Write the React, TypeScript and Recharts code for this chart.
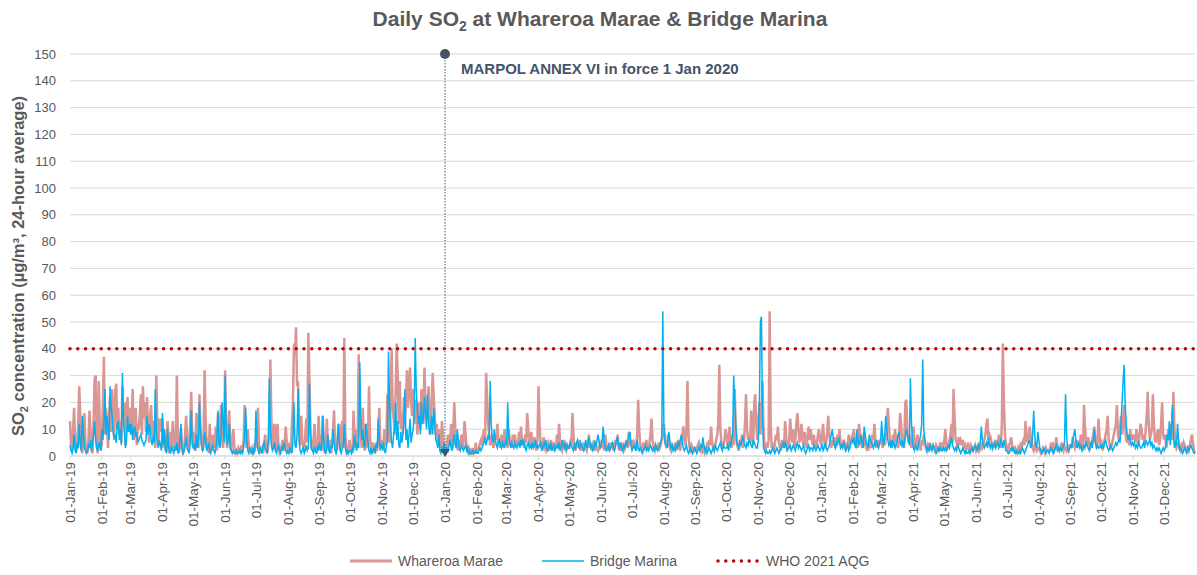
import React from 'react';
import { LineChart, Line, XAxis, YAxis, CartesianGrid, ReferenceLine, ReferenceDot } from 'recharts';

const monthNames = ['Jan', 'Feb', 'Mar', 'Apr', 'May', 'Jun', 'Jul', 'Aug', 'Sep', 'Oct', 'Nov', 'Dec'];
const yearLabels = ['19', '20', '21'];
const yTicks = [0, 10, 20, 30, 40, 50, 60, 70, 80, 90, 100, 110, 120, 130, 140, 150];
const whoLimit = 40;
const marpolDay = 365;

// Whareroa Marae daily SO2, one array per month
const whareroa2019 = [
  [13,4,2,10,18,6,2,3,12,26,15,3,1,8,16,5,2,1,6,17,9,2,1,14,29,30,4,1,28,12,2],
  [5,20,37,8,18,12,3,15,22,9,25,14,6,24,27,10,18,8,13,5,26,12,20,4,15,22,9,18],
  [11,14,25,6,13,18,4,12,10,16,23,8,26,14,20,9,22,11,5,15,19,8,13,6,3,30,12,4,14,9,13],
  [14,3,8,2,6,13,2,1,9,4,13,5,2,7,30,6,1,4,10,3,1,2,8,15,6,2,5,12,24,7],
  [4,9,2,16,8,3,23,10,5,2,6,32,14,3,7,1,12,4,2,8,3,6,11,2,16,5,8,19,6,3,9],
  [32,8,3,11,17,4,2,6,10,3,1,2,1,3,2,1,4,2,6,19,8,3,10,4,1,2,3,1,2,5],
  [3,7,18,4,1,2,3,1,5,8,2,1,4,9,36,14,3,6,12,2,8,12,3,1,2,4,6,2,3,11,5],
  [2,5,3,1,12,20,42,38,48,26,28,10,4,15,6,3,2,8,14,5,46,30,10,3,2,6,12,4,1,3,15],
  [3,8,2,15,5,1,3,14,4,2,6,1,3,10,17,4,2,3,9,12,2,5,13,3,44,8,2,1,3,6],
  [2,4,1,17,6,3,10,5,38,14,8,3,18,6,2,12,4,3,26,8,2,1,5,3,1,4,2,6,18,5,3],
  [6,2,10,4,8,23,12,5,18,40,20,14,8,25,42,30,12,28,10,16,8,22,14,20,32,18,26,33,20,15],
  [25,12,18,21,8,14,20,10,25,16,12,33,20,14,18,26,12,8,20,31,22,15,8,12,5,10,6,3,13,8,2],
];
const whareroa2020 = [
  [3,2,5,8,4,6,12,3,8,20,10,5,3,2,6,4,8,3,5,13,8,4,2,3,1,2,1,3,1,2,5],
  [1,2,3,5,6,4,8,10,5,31,22,12,8,4,6,8,3,5,8,6,12,4,6,3,8,5,3,10,6],
  [5,3,10,6,4,3,8,5,8,3,6,4,9,5,11,4,6,3,8,5,16,10,6,4,9,5,3,7,4,2,6],
  [26,12,5,3,4,7,3,2,4,5,3,2,6,3,4,2,5,3,8,4,12,5,3,2,4,6,3,2,4,3],
  [3,5,4,16,8,3,2,5,4,3,6,2,3,4,2,5,3,2,4,8,3,5,2,3,6,2,4,3,2,3,5],
  [4,3,6,2,8,4,3,2,5,3,4,5,2,3,6,4,8,3,2,5,3,4,2,3,5,6,3,9,4,5],
  [6,3,5,4,2,8,21,10,4,3,2,5,3,4,6,3,2,5,8,14,6,3,2,4,3,2,5,3,4,6,10],
  [12,6,4,3,8,5,3,2,4,3,2,5,3,4,6,3,2,5,8,11,6,4,10,28,8,3,2,4,3,2,3],
  [3,2,4,5,3,2,4,2,3,1,2,4,3,6,4,11,5,3,2,4,6,8,12,34,10,5,3,4,6,10],
  [8,4,6,11,5,3,8,4,25,10,5,3,2,6,4,8,3,5,12,23,10,6,8,5,17,8,4,20,23,12,6],
  [12,20,8,15,28,10,4,2,5,3,6,54,12,3,5,2,4,8,6,11,5,3,2,6,4,3,13,8,2,3],
  [6,14,8,5,10,3,6,12,16,10,5,8,12,6,4,9,5,3,8,11,6,10,6,4,8,5,3,5,8,10,6],
];
const whareroa2021 = [
  [4,8,12,6,3,5,9,15,8,5,3,6,4,7,3,5,8,6,10,5,4,3,6,5,2,5,4,8,3,6,7],
  [8,10,5,4,6,3,12,8,5,3,6,9,4,3,5,2,6,4,3,8,6,12,5,3,6,4,5,6],
  [5,3,8,4,6,10,18,12,6,4,3,8,5,10,6,4,3,8,16,12,5,8,3,20,21,10,5,8,6,3,5],
  [11,5,3,6,8,3,5,2,6,4,8,5,3,2,4,3,5,2,3,4,3,2,4,3,2,3,5,2,4,3],
  [6,10,4,3,4,6,8,12,5,25,14,6,5,3,7,4,6,5,6,3,4,2,3,5,3,2,4,3,2,3,4],
  [2,3,4,2,3,5,3,4,6,8,12,14,6,8,7,5,3,4,5,3,6,4,8,5,3,12,42,20,8,5],
  [3,2,4,5,7,4,3,2,3,2,1,3,2,4,3,5,6,4,13,8,5,6,11,8,5,3,2,4,3,2,3],
  [3,2,1,2,3,2,1,3,2,2,2,3,5,3,4,2,3,7,4,3,2,3,5,3,2,4,3,2,3,2,4],
  [4,3,7,4,3,5,6,3,4,5,8,3,2,19,10,5,4,7,5,3,4,6,8,11,6,4,3,14,8,4],
  [5,3,4,6,8,10,15,6,4,3,4,6,8,10,12,19,8,6,10,15,8,12,19,10,6,5,8,4,10,6,8],
  [6,8,5,10,6,4,8,12,10,6,8,5,10,15,24,12,6,8,10,23,12,6,5,8,10,4,6,12,20,8],
  [6,8,3,5,10,8,6,12,6,24,10,5,3,4,5,3,2,4,3,5,4,3,2,3,2,4,6,8,5,2,1],
];

// Bridge Marina daily SO2, one array per month
const bridge2019 = [
  [4,2,1,3,8,2,1,5,3,12,4,2,15,9,3,2,1,2,4,3,6,2,5,8,13,6,3,2,5,4,2],
  [10,6,12,25,8,15,10,6,26,18,15,9,7,8,5,12,13,6,10,4,31,14,8,3,6,15,9,12],
  [8,12,6,10,11,7,9,5,6,7,8,6,5,4,5,6,15,8,12,10,6,4,8,5,25,10,5,3,6,4,2],
  [16,4,10,2,1,10,3,2,1,4,2,1,3,2,5,1,2,6,12,3,1,2,4,7,3,2,1,5,17,4],
  [3,4,2,8,3,6,20,10,4,2,3,9,6,2,3,5,2,1,3,4,2,1,3,6,17,4,3,8,20,12,5],
  [30,10,4,6,12,3,2,1,2,1,1,2,1,1,2,1,2,1,3,8,18,6,2,1,3,2,1,3,1,2],
  [17,6,2,1,3,2,1,4,5,3,2,1,6,29,10,4,2,3,5,2,1,3,4,2,1,3,2,5,4,2,1],
  [2,1,3,2,1,6,20,4,3,8,25,6,2,1,2,3,1,2,4,2,3,27,8,3,2,1,3,2,1,4,2],
  [5,2,3,15,6,2,1,3,8,2,1,4,3,10,5,2,1,3,12,6,2,1,3,4,12,3,1,2,1,2],
  [2,1,3,2,8,4,2,5,3,35,15,6,10,4,3,12,8,5,2,1,3,1,2,3,1,5,3,14,6,2,4],
  [3,5,2,1,4,6,39,20,12,5,3,8,10,20,6,13,4,3,9,5,8,12,25,6,10,3,8,14,5,8],
  [10,15,44,25,18,12,15,8,20,12,14,22,16,10,23,12,8,10,15,8,18,12,6,5,3,8,2,1,3,2,5],
];
const bridge2020 = [
  [2,1,3,2,4,6,3,2,5,8,4,3,10,6,3,2,4,3,2,3,4,2,3,1,2,1,1,2,1,1,2],
  [1,1,2,3,2,3,4,5,7,4,6,8,6,28,12,6,5,10,6,4,3,5,6,4,3,5,4,3,6],
  [4,20,8,5,3,5,4,3,5,4,3,4,5,3,6,4,6,5,3,2,4,5,3,4,3,5,3,4,6,3,4],
  [3,4,5,3,2,5,4,6,3,2,4,3,5,2,3,4,2,3,4,3,5,2,3,6,4,3,5,2,4,3],
  [3,5,4,3,2,4,3,5,6,4,3,5,4,3,2,4,6,3,4,7,5,3,4,2,3,5,4,6,8,5,3],
  [4,6,11,5,3,2,3,4,2,3,4,5,3,2,4,6,7,4,3,5,3,2,4,3,5,4,6,8,9,4],
  [2,3,4,3,2,6,3,2,3,2,1,2,3,4,2,3,2,3,4,3,2,3,2,4,3,2,3,4,5,7,54],
  [12,5,4,3,6,9,5,3,4,2,3,2,4,3,5,4,6,8,5,3,2,3,4,2,1,2,3,2,1,2,3],
  [2,1,2,3,2,4,3,7,4,2,3,1,2,3,2,1,2,3,2,4,3,2,3,4,5,3,2,4,3,3],
  [3,4,2,5,4,6,8,30,20,12,5,4,3,5,4,6,7,5,4,3,5,4,6,5,4,3,6,5,4,3,3],
  [6,20,50,52,15,3,2,1,2,1,1,2,1,2,3,2,1,2,3,2,1,2,3,4,5,3,5,4,2,3],
  [3,4,2,3,4,3,2,4,5,3,4,3,2,3,4,2,1,2,3,4,2,3,3,2,4,3,2,3,4,3,2],
];
const bridge2021 = [
  [3,4,2,3,5,3,2,3,4,6,8,10,6,4,3,5,4,7,5,3,4,3,5,4,2,3,4,2,3,5,6],
  [5,7,4,3,10,6,4,6,8,5,3,11,8,5,4,3,8,6,5,4,3,5,4,6,4,3,5,6],
  [13,6,4,8,15,10,6,4,5,3,6,4,5,3,4,6,8,9,5,4,6,3,5,7,10,8,6,4,29,13,5],
  [3,2,4,3,2,5,6,8,12,36,10,6,4,2,3,2,4,3,2,4,3,2,1,2,3,2,3,2,2,3],
  [2,3,2,3,4,3,5,7,4,3,2,3,2,4,3,2,1,2,3,2,1,2,1,1,2,1,2,3,2,3,4],
  [3,2,4,3,5,11,6,4,3,4,5,3,7,4,3,5,3,4,5,3,4,5,3,4,6,5,3,6,4,2],
  [2,1,1,2,3,2,3,2,1,2,1,1,2,1,2,3,2,1,2,3,4,5,6,3,4,8,17,8,4,3,9],
  [6,3,2,1,2,3,2,1,2,2,1,2,3,2,1,2,3,4,2,3,2,3,2,3,4,5,23,8,3,2,3],
  [4,3,6,8,10,6,3,4,5,3,4,2,3,4,3,5,4,3,2,4,5,3,6,10,5,3,4,3,3,4],
  [3,4,3,5,6,4,3,2,3,4,3,2,3,4,5,4,5,6,5,12,20,28,34,20,12,8,6,8,6,4,5],
  [4,5,3,4,3,5,4,3,3,4,5,3,6,5,4,5,6,4,5,3,4,3,2,3,2,3,2,1,2,3],
  [2,3,5,8,6,13,4,10,19,8,3,5,4,12,6,2,3,2,1,2,3,2,1,3,2,3,4,3,2,1,1],
];

const wMonths = [...whareroa2019, ...whareroa2020, ...whareroa2021];
const bMonths = [...bridge2019, ...bridge2020, ...bridge2021];

const data: { d: number; w: number; b: number }[] = [];
const monthStarts: number[] = [];
const monthLabelByDay: Record<number, string> = {};
let dayCounter = 0;
wMonths.forEach((m, i) => {
  monthStarts.push(dayCounter);
  monthLabelByDay[dayCounter] = `01-${monthNames[i % 12]}-${yearLabels[Math.floor(i / 12)]}`;
  m.forEach((v, j) => {
    data.push({ d: dayCounter, w: v, b: bMonths[i][j] });
    dayCounter++;
  });
});
const lastDay = dayCounter - 1;

const FONT = '"Liberation Sans", Arial, sans-serif';
const GRAY = '#595959';
const PINK = '#d99694';
const BLUE = '#00b0f0';
const RED = '#c00000';
const NAVY = '#44546a';

const XTick = (props: any) => {
  const { x, y, payload } = props;
  return (
    <text
      x={x}
      y={y}
      transform={`rotate(-90, ${x}, ${y})`}
      textAnchor="end"
      dy="0.35em"
      fontSize={13.5}
      fill={GRAY}
      fontFamily={FONT}
    >
      {monthLabelByDay[payload.value] ?? ''}
    </text>
  );
};

const TopDot = (props: any) => {
  const { cx, cy } = props;
  return (
    <g>
      <circle cx={cx} cy={cy} r={5} fill={NAVY} />
      <text x={cx + 16} y={cy + 20} fontSize={15} fontWeight="bold" fill={NAVY} fontFamily={FONT}>
        MARPOL ANNEX VI in force 1 Jan 2020
      </text>
    </g>
  );
};

const BottomTri = (props: any) => {
  const { cx, cy } = props;
  return <path d={`M${cx - 5},${cy - 7} L${cx + 5},${cy - 7} L${cx},${cy + 1} Z`} fill={NAVY} />;
};

export default function App() {
  return (
    <div style={{ position: 'absolute', left: 0, top: 0, width: 1197, height: 575, fontFamily: FONT }}>
      <LineChart
        width={1197}
        height={575}
        data={data}
        margin={{ top: 54, right: 2, bottom: 49, left: 0 }}
        style={{ fontFamily: FONT }}
      >
        <CartesianGrid vertical={false} stroke="#d9d9d9" />
        <XAxis
          dataKey="d"
          type="number"
          domain={[0, lastDay]}
          ticks={monthStarts}
          interval={0}
          height={70}
          tick={<XTick />}
          tickSize={4}
          tickMargin={2}
          stroke="#d9d9d9"
          axisLine={{ stroke: '#d9d9d9' }}
          tickLine={{ stroke: '#d9d9d9' }}
        />
        <YAxis
          type="number"
          domain={[0, 150]}
          ticks={yTicks}
          interval={0}
          width={70}
          axisLine={false}
          tickLine={false}
          tickMargin={8}
          tick={{ fill: GRAY, fontSize: 13, fontFamily: FONT }}
        />
        <Line
          type="linear"
          dataKey="w"
          stroke={PINK}
          strokeWidth={2.5}
          dot={false}
          isAnimationActive={false}
        />
        <Line
          type="linear"
          dataKey="b"
          stroke={BLUE}
          strokeWidth={1.5}
          dot={false}
          isAnimationActive={false}
        />
        <ReferenceLine
          y={whoLimit}
          stroke={RED}
          strokeWidth={3.5}
          strokeDasharray="0 7.8"
          strokeLinecap="round"
        />
        <ReferenceLine
          segment={[{ x: marpolDay, y: 150 }, { x: marpolDay, y: 1 }]}
          stroke={NAVY}
          strokeWidth={1}
          strokeDasharray="1.5 1.5"
        />
        <ReferenceDot x={marpolDay} y={150} r={5} shape={<TopDot />} />
        <ReferenceDot x={marpolDay} y={0} r={5} shape={<BottomTri />} />
      </LineChart>
      <svg
        width={1197}
        height={575}
        style={{ position: 'absolute', left: 0, top: 0, pointerEvents: 'none' }}
        fontFamily={FONT}
      >
        <text x={600} y={26} textAnchor="middle" fontSize={21} fontWeight="bold" fill={GRAY}>
          <tspan>Daily SO</tspan>
          <tspan fontSize={14} dy={5}>2</tspan>
          <tspan dy={-5}> at Whareroa Marae &amp; Bridge Marina</tspan>
        </text>
        <text
          transform="rotate(-90)"
          x={-266}
          y={24}
          textAnchor="middle"
          fontSize={16.5}
          fontWeight="bold"
          fill={GRAY}
        >
          <tspan>SO</tspan>
          <tspan fontSize={11} dy={4}>2</tspan>
          <tspan dy={-4}> concentration (µg/m³, 24-hour average)</tspan>
        </text>
        <line x1={350} y1={561} x2={392} y2={561} stroke={PINK} strokeWidth={3} />
        <text x={398} y={566} fontSize={14} fill={GRAY}>Whareroa Marae</text>
        <line x1={542} y1={561} x2={584} y2={561} stroke={BLUE} strokeWidth={1.5} />
        <text x={590} y={566} fontSize={14} fill={GRAY}>Bridge Marina</text>
        <line
          x1={718}
          y1={561}
          x2={760}
          y2={561}
          stroke={RED}
          strokeWidth={3.5}
          strokeDasharray="0 7.8"
          strokeLinecap="round"
        />
        <text x={766} y={566} fontSize={14} fill={GRAY}>WHO 2021 AQG</text>
      </svg>
    </div>
  );
}
